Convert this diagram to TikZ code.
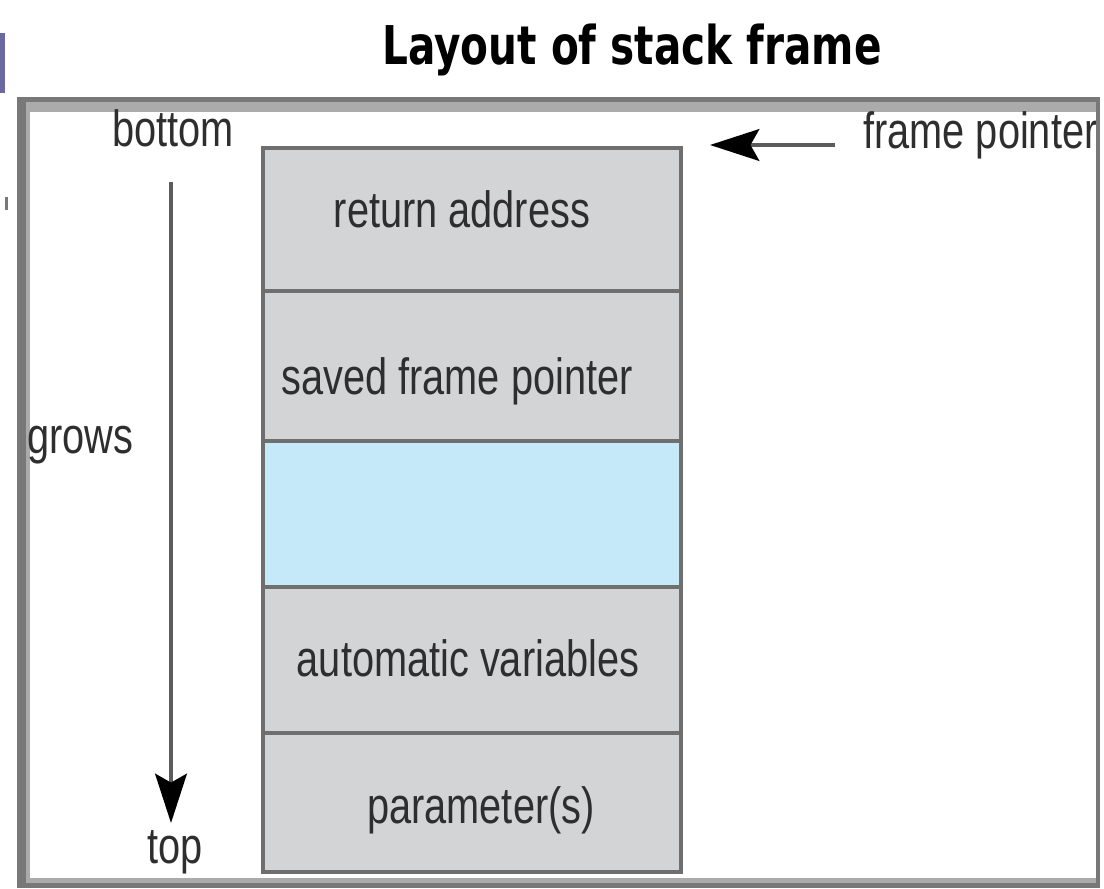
\documentclass[tikz,border=0pt]{standalone}
\usepackage{fontspec}
\newfontfamily\lblfont{Liberation Sans}[FakeStretch=0.78]
\newfontfamily\ttlfont{DejaVu Sans}[FakeStretch=0.76]
\usetikzlibrary{arrows.meta,positioning}
\definecolor{cellgray}{HTML}{D3D4D6}
\definecolor{cellblue}{HTML}{C6E9F9}
\definecolor{rulegray}{HTML}{6F6F6F}
\definecolor{framedark}{HTML}{787878}
\definecolor{framelight}{HTML}{ABABAB}
\definecolor{shaftgray}{HTML}{5C5C5C}
\definecolor{txtgray}{HTML}{2E2E2E}
\definecolor{tabblue}{HTML}{6A6AA0}

\begin{document}
\begin{tikzpicture}[x=0.02cm,y=-0.02cm,>={Stealth[length=28pt,width=18pt,inset=5pt,color=black]},
  lbl/.style={font=\lblfont\fontsize{29}{34}\selectfont,text=txtgray,inner sep=0pt,anchor=base}]
\fill[white] (0,0) rectangle (1104,888);
\useasboundingbox (0,0) rectangle (1104,888);
\fill[tabblue] (0,33) rectangle (5,93);
\fill[framedark] (5,197) rectangle (8,210);
\fill[framedark] (17,97) rectangle (1100,888);
\fill[framelight] (26,102) rectangle (1096,883);
\fill[white] (30,112) rectangle (1096,878);
\node[anchor=base,inner sep=0pt,font=\ttlfont\bfseries\fontsize{30.4}{36}\selectfont] (title) at (632,65) {Layout of stack frame};
\foreach \ya/\yb/\c in {148/291/cellgray,291/441/cellgray,441/587/cellblue,587/733/cellgray,733/872/cellgray}
  \fill[\c] (263,\ya) rectangle (681,\yb);
\foreach \y in {291,441,587,733}
  \draw[rulegray,line width=2.2pt] (263,\y) -- (681,\y);
\draw[rulegray,line width=2.2pt] (263,148) rectangle (681,872);
\node[lbl] (ret) at (462,228) {return address};
\node[lbl] (savedfp) at (457,394) {saved frame pointer};
\node[lbl] (autovars) at (468,676) {automatic variables};
\node[lbl] (params) at (481,823) {parameter(s)};
\node[lbl] (lbottom) at (173,147) {bottom};
\node[lbl] (ltop) at (175,863) {top};
\node[lbl,anchor=base west] (lgrows) at (27,453) {grows};
\node[lbl,anchor=base west] (lfp) at (863,149) {frame pointer};
\fill[framedark] (1096,102) rectangle (1100,888);
\coordinate (gtail) at (171,182);
\coordinate (ghead) at (171,823);
\coordinate (fptail) at (835,145);
\coordinate (fphead) at (710,145);
\draw[shaftgray,line width=2.5pt,->] (gtail) -- (ghead);
\draw[shaftgray,line width=2.5pt,->] (fptail) -- (fphead);
\end{tikzpicture}
\end{document}
